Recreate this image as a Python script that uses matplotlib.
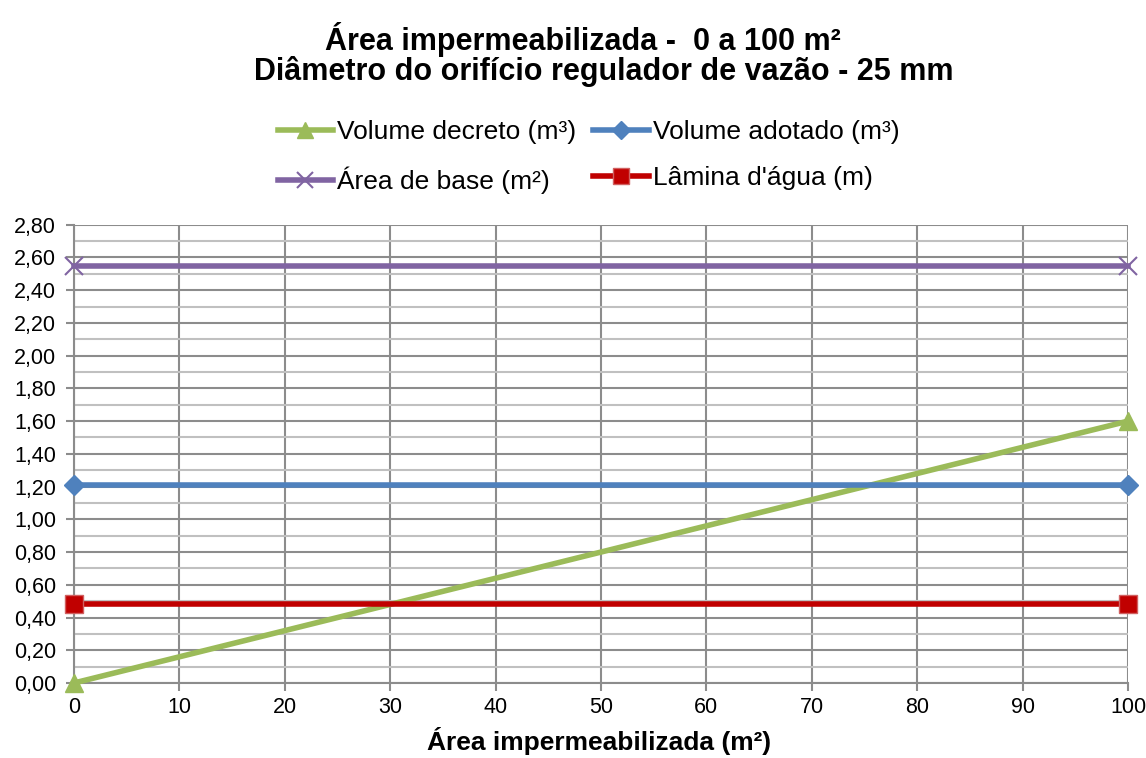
import matplotlib
matplotlib.use("Agg")
import matplotlib.pyplot as plt
from matplotlib.ticker import MultipleLocator, FuncFormatter

plt.rcParams['font.family'] = ['Liberation Sans', 'DejaVu Sans']

# data
area = [0, 100]
volume_decreto = [0.00, 1.60]
volume_adotado = [1.21, 1.21]
area_base = [2.55, 2.55]
lamina_agua = [0.48, 0.48]

title_1 = "Área impermeabilizada -  0 a 100 m²"
title_2 = "Diâmetro do orifício regulador de vazão - 25 mm"
xlabel = "Área impermeabilizada (m²)"

W, H = 1146, 758
fig = plt.figure(figsize=(W / 100, H / 100), dpi=100)
ax = fig.add_axes([74 / W, 1 - 683 / H, (1128 - 74) / W, (683 - 224.7) / H])

grid_major = "#8c8c8c"
grid_minor = "#c0c0c0"

l1, = ax.plot(area, volume_decreto, color="#9bbb59", lw=4, marker="^",
              markersize=13, clip_on=False, zorder=5, label="Volume decreto (m³)")
l2, = ax.plot(area, volume_adotado, color="#4f81bd", lw=4, marker="D",
              markersize=10, clip_on=False, zorder=5, label="Volume adotado (m³)")
l3, = ax.plot(area, area_base, color="#8064a2", lw=4, marker="x",
              markersize=13, markeredgewidth=1.5, clip_on=False, zorder=5,
              label="Área de base (m²)")
l4, = ax.plot(area, lamina_agua, color="#c00000", lw=4, marker="s",
              markersize=13, markeredgecolor="#d06060", markeredgewidth=1,
              clip_on=False, zorder=5, label="Lâmina d'água (m)")

ax.set_xlim(0, 100)
ax.set_ylim(0, 2.8)
ax.xaxis.set_major_locator(MultipleLocator(10))
ax.yaxis.set_major_locator(MultipleLocator(0.2))
ax.yaxis.set_minor_locator(MultipleLocator(0.1))
ax.yaxis.set_major_formatter(FuncFormatter(lambda v, p: f"{v:.2f}".replace(".", ",")))

ax.grid(which="major", color=grid_major, lw=1.5)
ax.grid(which="minor", axis="y", color=grid_minor, lw=1.5)
ax.set_axisbelow(True)

for s in ["top", "right"]:
    ax.spines[s].set_visible(False)
for s in ["left", "bottom"]:
    ax.spines[s].set_color(grid_major)
    ax.spines[s].set_linewidth(1.5)

ax.tick_params(axis="both", which="major", labelsize=15.5, color=grid_major,
               length=6, width=1.5, direction="out")
ax.tick_params(axis="y", which="minor", length=0)
ax.tick_params(axis="y", pad=7)
ax.tick_params(axis="x", pad=4)

fig.text(583 / W, 1 - 50 / H, title_1, fontsize=22, fontweight="bold",
         ha="center", va="baseline")
fig.text(604 / W, 1 - 80 / H, title_2, fontsize=22, fontweight="bold",
         ha="center", va="baseline")
fig.text(599 / W, 1 - 750 / H, xlabel, fontsize=19, fontweight="bold",
         ha="center", va="baseline")

fig.legend(handles=[l1, l3, l2, l4], ncol=2, loc="center",
           bbox_to_anchor=(588.5 / W, 1 - 157 / H), frameon=False, fontsize=19,
           handlelength=2.1, handletextpad=0.15, columnspacing=0.65,
           labelspacing=0.85, borderpad=0, markerscale=0.9)

fig.savefig("out.png", dpi=100)
